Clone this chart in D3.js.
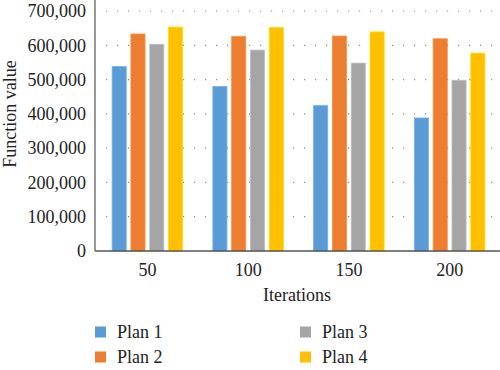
<!DOCTYPE html>
<html><head><meta charset="utf-8">
<script src="https://cdn.jsdelivr.net/npm/d3@7"></script>
<style>body{margin:0;background:#fff}svg{display:block}
svg text{font-family:"Liberation Serif","DejaVu Serif","Times New Roman",serif !important;}</style>
</head><body><svg id="c" width="500" height="370"></svg>
<script>
const categories = ["50","100","150","200"];
const seriesNames = ["Plan 1","Plan 2","Plan 3","Plan 4"];
const plan1 = [538000, 480000, 424000, 388000];
const plan2 = [633000, 626000, 627000, 619000];
const plan3 = [603000, 586000, 548000, 498000];
const plan4 = [653000, 652000, 639000, 577000];
const yTicks = [0,100000,200000,300000,400000,500000,600000,700000];
const colors = ["#5B9BD5","#ED7D31","#A5A5A5","#FFC000"];
const series = [plan1, plan2, plan3, plan4];

(function(){
const svg = d3.select("#c");
const fs = 18;
const mLeft = 95, mRight = 500, mTop = 11, mBottom = 251;

const x = d3.scaleBand().domain(categories).range([mLeft+2, mRight]).paddingInner(0.3).paddingOuter(0.15);
const x1 = d3.scaleBand().domain(seriesNames).range([0, x.bandwidth()]).paddingInner(0.25);
const y = d3.scaleLinear().domain([0, 700000]).range([mBottom, mTop]);

// grid
svg.append("g").selectAll("line").data(yTicks.filter(d=>d>0)).join("line")
  .attr("x1", mLeft+11).attr("x2", mRight).attr("y1", d=>y(d)).attr("y2", d=>y(d))
  .attr("stroke", "#888").attr("stroke-width", 1.2).attr("stroke-dasharray", "1.2,9.8");

// bars
const g = svg.append("g");
categories.forEach((c, i) => {
  series.forEach((s, j) => {
    g.append("rect")
      .attr("x", x(c) + x1(seriesNames[j]))
      .attr("y", y(s[i]))
      .attr("width", x1.bandwidth())
      .attr("height", y(0) - y(s[i]))
      .attr("fill", colors[j])
      .attr("stroke", d3.color(colors[j]).brighter(0.4))
      .attr("stroke-width", 0.8);
  });
});

// axes
const yAxis = d3.axisLeft(y).tickValues(yTicks).tickSize(0).tickPadding(9).tickFormat(d3.format(","));
const ya = svg.append("g").attr("transform", `translate(${mLeft},0)`).call(yAxis);
ya.select(".domain").remove();
ya.selectAll("text").attr("font-size", fs).attr("fill", "#222");

svg.append("line").attr("x1", mLeft).attr("x2", mLeft).attr("y1", 0).attr("y2", mBottom)
  .attr("stroke", "#555").attr("stroke-width", 1.2);

const xAxis = d3.axisBottom(x).tickSize(0).tickPadding(12);
const xa = svg.append("g").attr("transform", `translate(0,${mBottom})`).call(xAxis);
xa.select(".domain").remove();
xa.selectAll("text").attr("font-size", fs).attr("fill", "#222");
svg.append("line").attr("x1", mLeft).attr("x2", mRight).attr("y1", mBottom).attr("y2", mBottom)
  .attr("stroke", "#555").attr("stroke-width", 1.5);

svg.append("text").attr("x", 297).attr("y", 301).attr("text-anchor", "middle")
  .attr("font-size", fs).attr("fill", "#222").text("Iterations");
svg.append("text").attr("transform", "translate(16,114) rotate(-90)").attr("text-anchor", "middle")
  .attr("font-size", fs).attr("fill", "#222").text("Function value");

// legend
const legPos = [[95,332],[95,357],[300,332],[300,357]];
seriesNames.forEach((n, j) => {
  const [lx, ly] = legPos[j];
  svg.append("rect").attr("x", lx).attr("y", ly-5.5).attr("width", 11).attr("height", 11).attr("fill", colors[j]);
  svg.append("text").attr("x", lx+22).attr("y", ly+6).attr("font-size", fs)
    .attr("fill", "#222").text(n);
});
})();
</script></body></html>
